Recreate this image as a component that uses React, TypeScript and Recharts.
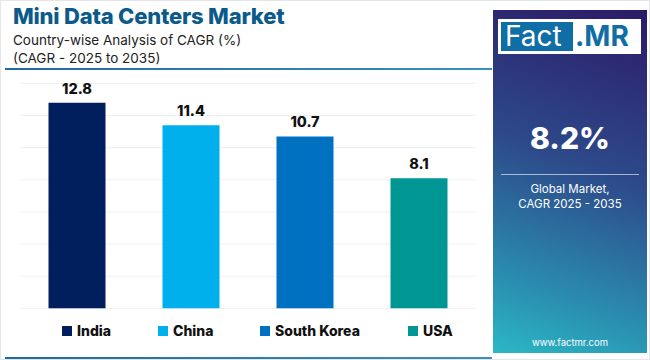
import React from 'react';
import { BarChart, Bar, XAxis, YAxis, CartesianGrid, Cell, LabelList } from 'recharts';

const countries = ['India', 'China', 'South Korea', 'USA'];
const cagrValues = [12.8, 11.4, 10.7, 8.1];
const barColors = ['#001f5c', '#00b0ec', '#0070c0', '#009693'];
const yTicks = [0, 2, 4, 6, 8, 10, 12, 14];

const data = countries.map((country, i) => ({ country, cagr: cagrValues[i] }));

const FONT = 'Inter, "Open Sans", sans-serif';
const legendX = [62, 158, 260, 408];

const App: React.FC = () => {
    return (
        <div style={{ position: 'fixed', left: 0, top: 0, width: 650, height: 360, background: '#ffffff', fontFamily: FONT, overflow: 'hidden' }}>
            <div style={{ position: 'absolute', left: 0, top: 0, width: 648, height: 358, border: '1px solid #e4e6ea' }} />
            <div style={{ position: 'absolute', left: 13, top: 3, fontSize: 22, fontWeight: 800, color: '#0b5a8a', letterSpacing: -0.2 }}>
                Mini Data Centers Market
            </div>
            <div style={{ position: 'absolute', left: 13, top: 31, fontSize: 13.5, color: '#222', lineHeight: '18px' }}>
                Country-wise Analysis of CAGR (%)
                <br />
                (CAGR - 2025 to 2035)
            </div>
            <div style={{ position: 'absolute', left: 5, top: 68, width: 487, height: 2, background: 'linear-gradient(90deg, #1f6aa5, #3a8fc0)' }} />

            <div style={{ position: 'absolute', left: 0, top: 0 }}>
                <BarChart
                    width={490}
                    height={360}
                    data={data}
                    barCategoryGap="25%"
                    margin={{ top: 83.5, right: 14, left: 20, bottom: 51.7 }}
                >
                    <CartesianGrid vertical={false} stroke="#eceef2" />
                    <XAxis dataKey="country" hide />
                    <YAxis hide domain={[0, 14]} ticks={yTicks} />
                    <Bar dataKey="cagr" isAnimationActive={false}>
                        {data.map((d, i) => (
                            <Cell key={d.country} fill={barColors[i]} />
                        ))}
                        <LabelList
                            dataKey="cagr"
                            position="top"
                            offset={9}
                            style={{ fontSize: 14.5, fontWeight: 800, fill: '#111', fontFamily: FONT }}
                        />
                    </Bar>
                </BarChart>
            </div>

            {countries.map((c, i) => (
                <div
                    key={c}
                    style={{
                        position: 'absolute',
                        left: legendX[i],
                        top: 322,
                        display: 'flex',
                        alignItems: 'center',
                        fontSize: 14,
                        fontWeight: 800,
                        color: '#111',
                    }}
                >
                    <span style={{ display: 'inline-block', width: 10, height: 10, background: barColors[i], marginRight: 5 }} />
                    {c}
                </div>
            ))}

            <div style={{ position: 'absolute', left: 5, top: 357, width: 487, height: 2, background: 'linear-gradient(90deg, #1f6aa5, #3a8fc0)' }} />

            <div
                style={{
                    position: 'absolute',
                    left: 493,
                    top: 10,
                    width: 154,
                    height: 343,
                    background: 'linear-gradient(200deg, #2c1a68 0%, #2d4a8a 45%, #2a8db0 80%, #2bb8c4 100%)',
                    color: '#fff',
                    textAlign: 'center',
                }}
            >
                <div style={{ position: 'absolute', left: 5, top: 9, width: 143, height: 35, background: '#fff' }}>
                    <div style={{ position: 'absolute', left: 3, top: 3, width: 72, height: 29, background: '#0f6ea6', color: '#fff', fontSize: 28, lineHeight: '29px', textAlign: 'left', paddingLeft: 4, boxSizing: 'border-box' }}>
                        Fact
                    </div>
                    <div style={{ position: 'absolute', left: 77, top: 3, height: 29, color: '#0f6ea6', fontSize: 28, lineHeight: '29px', fontWeight: 700 }}>
                        .MR
                    </div>
                </div>
                <div style={{ position: 'absolute', left: 0, top: 110, width: 154, fontSize: 30, fontWeight: 800 }}>8.2%</div>
                <div style={{ position: 'absolute', left: 8, top: 164, width: 138, height: 1, background: 'rgba(255,255,255,0.6)' }} />
                <div style={{ position: 'absolute', left: 0, top: 172, width: 154, fontSize: 11.5, lineHeight: '15px' }}>
                    Global Market,
                    <br />
                    CAGR 2025 - 2035
                </div>
                <div style={{ position: 'absolute', left: 0, top: 327, width: 154, fontSize: 9.5 }}>www.factmr.com</div>
            </div>
        </div>
    );
};

export default App;
